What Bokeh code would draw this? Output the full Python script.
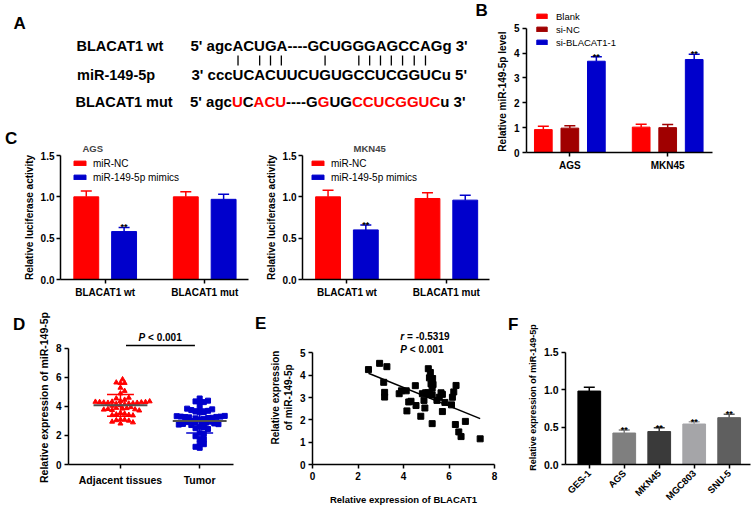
import math
import numpy as np
from bokeh.plotting import figure
from bokeh.layouts import row, column
from bokeh.models import Range1d, FixedTicker, Legend, LegendItem, Div
from bokeh.core.properties import value
from bokeh.embed import file_html
from bokeh.resources import INLINE

FONT = "Liberation Sans"
RED = "#ff0000"
DARKRED = "#a00000"
BLUE = "#0000cc"
NBSP = "\u00a0"

# ---------------- Panel A (sequences)
row_names = ["BLACAT1 wt", "miR-149-5p", "BLACAT1 mut"]
seq_wt = "5' agcACUGA----GCUGGGAGCCAGg 3'"
seq_mir = "3' cccUCACUUCUGUGCCUCGGUCu 5'"
mut_parts = ["5' agc", "U", "C", "ACU", "----G", "G", "UG", "CCUCGGUC", "u 3'"]
mut_red = [False, True, False, True, False, True, False, True, False]
pair_idx = [0, 2, 3, 4, 8, 11, 12, 13, 14, 15, 16, 17]   # paired bases of miR core

# ---------------- Panel B
b_groups = ["AGS", "MKN45"]
b_series = ["Blank", "si-NC", "si-BLACAT1-1"]
b_blank = [0.92, 1.02]
b_blank_err = [0.14, 0.12]
b_sinc = [0.98, 1.00]
b_sinc_err = [0.10, 0.13]
b_si = [3.67, 3.74]
b_si_err = [0.18, 0.21]

# ---------------- Panel C
c_groups = ["BLACAT1 wt", "BLACAT1 mut"]
c_series = ["miR-NC", "miR-149-5p mimics"]
c_ags_nc = [1.00, 1.00]
c_ags_nc_err = [0.07, 0.06]
c_ags_mim = [0.58, 0.97]
c_ags_mim_err = [0.05, 0.06]
c_mkn_nc = [1.00, 0.98]
c_mkn_nc_err = [0.08, 0.07]
c_mkn_mim = [0.60, 0.96]
c_mkn_mim_err = [0.06, 0.06]

# ---------------- Panel D
d_groups = ["Adjacent tissues", "Tumor"]
d_adjacent = [5.87, 5.65, 5.61, 5.62, 5.29, 5.07, 4.9, 4.6, 4.55, 4.46,
              4.38, 4.35, 4.33, 4.32, 4.3, 4.3, 4.28, 4.27, 4.25, 4.25,
              4.22, 4.2, 4.18, 4.15, 4.1, 4.05, 3.95, 3.9, 3.88, 3.85,
              3.82, 3.8, 3.78, 3.75, 3.72, 3.55, 3.5, 3.45, 3.42, 3.4,
              3.38, 3.1, 3.08, 3.05, 3.02, 2.95, 2.9, 2.82]
d_tumor = [4.55, 4.4, 4.35, 4.3, 4.25, 3.9, 3.85, 3.8, 3.75, 3.7,
           3.65, 3.62, 3.6, 3.35, 3.33, 3.3, 3.3, 3.28, 3.27, 3.25,
           3.22, 3.2, 3.18, 3.15, 3.1, 3.0, 2.95, 2.92, 2.9, 2.88,
           2.85, 2.83, 2.8, 2.78, 2.75, 2.72, 2.6, 2.55, 2.5, 2.45,
           2.15, 2.1, 1.95, 1.75, 1.72, 1.45, 1.4, 1.22, 1.15]

# ---------------- Panel E
e_x = [2.46, 2.95, 3.27, 3.13, 3.17, 3.17, 3.81, 3.91, 4.12, 4.15,
       4.23, 4.33, 4.52, 4.55, 4.76, 4.83, 4.90, 4.94, 4.97, 5.07,
       5.09, 5.14, 5.18, 5.21, 5.26, 5.14, 5.26, 5.28, 5.30, 5.26,
       5.47, 5.57, 5.65, 5.71, 5.71, 5.82, 6.11, 6.15, 6.21, 6.31,
       6.28, 6.43, 6.53, 6.72, 7.37]
e_y = [4.25, 4.53, 4.38, 3.68, 3.23, 3.02, 3.17, 3.30, 3.30, 2.40,
       2.80, 2.83, 3.53, 2.64, 2.16, 3.17, 2.87, 2.53, 3.21, 3.21,
       4.29, 3.88, 4.12, 3.61, 3.41, 3.14, 3.11, 3.85, 3.58, 1.83,
       2.87, 3.01, 3.21, 3.14, 2.37, 2.78, 2.67, 3.01, 3.25, 3.54,
       1.79, 1.46, 1.25, 1.93, 1.15]

# ---------------- Panel F
f_cells = ["GES-1", "AGS", "MKN45", "MGC803", "SNU-5"]
f_vals = [0.98, 0.42, 0.44, 0.54, 0.625]
f_err = [0.05, 0.04, 0.05, 0.03, 0.045]
f_colors = ["#000000", "#7f7f7f", "#3a3a3a", "#a5a5a8", "#5f5f5f"]
f_star = ["", "**", "**", "**", "**"]

# Arial/Liberation Sans Bold advance widths (per 1000 em)
BOLD_W = {"5": 556, "3": 556, "'": 238, " ": 278, "a": 556, "g": 611, "c": 556,
          "u": 611, "U": 722, "C": 722, "A": 722, "G": 778, "-": 333}


def tw(s, size):
    return sum(BOLD_W[ch] for ch in s) * size / 1000.0


def make_fig(w, h, xr, yr, left, right, top, bottom, axes=True):
    kw = {}
    if not axes:
        kw = dict(x_axis_type=None, y_axis_type=None)
    p = figure(width=w, height=h, x_range=Range1d(*xr), y_range=Range1d(*yr),
               output_backend="svg", toolbar_location=None,
               min_border_left=left, min_border_right=right,
               min_border_top=top, min_border_bottom=bottom, **kw)
    p.grid.visible = False
    p.outline_line_color = None
    if axes:
        for ax in list(p.xaxis) + list(p.yaxis):
            ax.axis_line_width = 1.5
            ax.axis_line_color = "black"
            ax.major_tick_line_width = 1.5
            ax.major_tick_line_color = "black"
            ax.major_tick_in = 0
            ax.major_tick_out = 4
            ax.minor_tick_line_color = None
            ax.major_label_text_font = FONT
            ax.major_label_text_font_style = "bold"
            ax.major_label_text_font_size = "10px"
            ax.major_label_text_color = "black"
            ax.axis_label_text_font = FONT
            ax.axis_label_text_font_style = "bold"
            ax.axis_label_text_font_size = "10px"
            ax.axis_label_text_color = "black"
            ax.major_label_standoff = 3
            ax.axis_label_standoff = 3
    return p


def letter_div(w, h, ch, left, top):
    html = (f'<div style="margin:{top}px 0 0 {left}px;font-family:\'{FONT}\';'
            f'font-weight:bold;font-size:17px;line-height:17px;color:black">{ch}</div>')
    return Div(text=html, width=w, height=h, margin=0)


def err_bars(p, xs, tops, errs, color, cap):
    xs = np.asarray(xs, float)
    up = np.asarray(tops) + np.asarray(errs)
    p.segment(x0=xs, y0=tops, x1=xs, y1=up, line_color=color, line_width=1.5)
    p.segment(x0=xs - cap, y0=up, x1=xs + cap, y1=up, line_color=color, line_width=1.5)


def stars(p, xs, ys, labels, size="9px"):
    p.text(x=list(xs), y=list(ys), text=labels, text_font=value(FONT),
           text_font_style="bold", text_font_size=size, text_align="center",
           text_baseline="alphabetic", text_color="black")


def styled_legend(items, loc, gw, gh, lh, spacing, standoff, fsize):
    return Legend(items=items, location=loc, glyph_width=gw, glyph_height=gh,
                  label_height=lh, label_width=10, spacing=spacing, padding=0, margin=0,
                  label_standoff=standoff, border_line_color=None,
                  background_fill_alpha=0, label_text_font=FONT,
                  label_text_font_size=fsize, label_text_color="black")


# ======================= A (text panel, also holds letter B) =======================
pa = make_fig(490, 130, (0, 490), (130, 0), 0, 0, 0, 0, axes=False)
pa.text(x=[13, 475], y=[23, 10], text=["A", "B"], text_font=value(FONT),
        text_font_style="bold", text_font_size="17px", text_baseline="middle")
pa.text(x=[76, 76.5, 75], y=[45, 74, 101], text=row_names, text_font=value(FONT),
        text_font_style="bold", text_font_size="14.5px", text_baseline="middle")
SEQ = 15
pa.text(x=[190, 191], y=[45, 74], text=[seq_wt, seq_mir], text_font=value(FONT),
        text_font_style="bold", text_font_size=f"{SEQ}px", text_baseline="middle")
mx, xcur = [], 189.5
for part in mut_parts:
    mx.append(xcur)
    xcur += tw(part, SEQ)
pa.text(x=mx, y=[101] * len(mut_parts), text=mut_parts, text_font=value(FONT),
        text_font_style="bold", text_font_size=f"{SEQ}px", text_baseline="middle",
        text_color=[RED if r else "black" for r in mut_red])
core = seq_mir[6:25]
start = 191 + tw(seq_mir[:6], SEQ)
centers = [start + tw(core[:i], SEQ) + tw(core[i], SEQ) / 2 for i in pair_idx]
pa.segment(x0=centers, y0=[55] * len(centers), x1=centers, y1=[65] * len(centers),
           line_color="black", line_width=1.3)

# ======================= B =======================
pb = make_fig(263, 310, (-0.443, 1.458), (0, 5.79), 36, 41, 8, 158)
pb.yaxis.bounds = (0, 5)
pb.yaxis.ticker = FixedTicker(ticks=[0, 1, 2, 3, 4, 5])
# trailing no-break spaces keep the visible label centred on the 0-5 axis
pb.yaxis.axis_label = "Relative miR-149-5p level" + NBSP * 8
pb.xaxis.ticker = FixedTicker(ticks=[0, 1])
pb.xaxis.major_label_overrides = {0: b_groups[0], 1: b_groups[1]}
gx = np.arange(len(b_groups), dtype=float)
items = []
capb = 5.5 / 97.8
for off, vals, errs, col, name in [(-0.271, b_blank, b_blank_err, RED, b_series[0]),
                                   (0.0, b_sinc, b_sinc_err, DARKRED, b_series[1]),
                                   (0.271, b_si, b_si_err, BLUE, b_series[2])]:
    xs = gx + off
    err_bars(pb, xs, vals, errs, col, capb)
    r = pb.vbar(x=xs, top=vals, width=0.181, fill_color=col, line_color=col)
    items.append(LegendItem(label=name, renderers=[r]))
stars(pb, gx + 0.271, np.array(b_si) + np.array(b_si_err), ["**", "**"])
pb.add_layout(styled_legend(items, (9, 144 - 2 - 38), 13, 6, 12, 1, 8, "9.5px"))


# ======================= C =======================
def c_panel(w, nc, nc_err, mim, mim_err, title, title_x, leg_x, left, xr):
    p = make_fig(w, 180, xr, (0, 1.5), left, 1, 25, 31)
    p.yaxis.ticker = FixedTicker(ticks=[0, 0.5, 1.0, 1.5])
    p.yaxis.axis_label = "Relative luciferase activity"
    p.yaxis.major_label_overrides = {0: "0.0", 0.5: "0.5", 1: "1.0", 1.5: "1.5"}
    p.yaxis.major_label_standoff = 2
    p.xaxis.ticker = FixedTicker(ticks=[0, 1])
    p.xaxis.major_label_overrides = {0: c_groups[0], 1: c_groups[1]}
    g = np.arange(2, dtype=float)
    its = []
    cap = 5.5 / 99.5
    for off, vals, errs, col, name in [(-0.19, nc, nc_err, RED, c_series[0]),
                                       (0.19, mim, mim_err, BLUE, c_series[1])]:
        xs = g + off
        err_bars(p, xs, vals, errs, col, cap)
        r = p.vbar(x=xs, top=vals, width=0.25, fill_color=col, line_color=col)
        its.append(LegendItem(label=name, renderers=[r]))
    stars(p, [g[0] + 0.19], [mim[0] + mim_err[0]], ["**"])
    p.add_layout(styled_legend(its, (leg_x, 124 - 1 - 28), 15, 6, 14, 0, 6, "10px"))
    p.title.text = title
    p.title.align = "left"
    p.title.offset = title_x
    p.title.standoff = 3
    p.title.text_font = FONT
    p.title.text_font_style = "bold"
    p.title.text_font_size = "9.5px"
    return p


c_strip = letter_div(20, 180, "C", 5, 0)
pc1 = c_panel(229, c_ags_nc, c_ags_nc_err, c_ags_mim, c_ags_mim_err, "AGS", 22, 12, 40, (-0.449, 1.440))
pc2 = c_panel(241, c_mkn_nc, c_mkn_nc_err, c_mkn_mim, c_mkn_mim_err, "MKN45", 51, 8, 53, (-0.447, 1.434))

# ======================= D =======================
D_XPX = 79.7
D_YPX = 142 / 9.236
d_strip = letter_div(34, 199, "D", 13, 6)
pd = make_fig(216, 199, (-0.656, 1.427), (0, 9.236), 33, 17, 20, 37)
pd.yaxis.bounds = (0, 8)
pd.yaxis.ticker = FixedTicker(ticks=[0, 2, 4, 6, 8])
pd.yaxis.axis_label = "Relative expression of miR-149-5p"
pd.yaxis.axis_label_text_font_size = "10.5px"
pd.xaxis.ticker = FixedTicker(ticks=[0, 1])
pd.xaxis.major_label_overrides = {0: d_groups[0], 1: d_groups[1]}
pd.xaxis.major_label_text_font_size = "10.5px"
pd.xaxis.major_label_standoff = 5


def swarm_offsets(vals, ypx, xpx, d):
    vals = np.asarray(vals, float)
    order = np.argsort(np.abs(vals - np.median(vals)))
    placed = []
    offs = np.zeros(len(vals))
    for i in order:
        y = vals[i] * ypx
        chosen = None
        for j in range(80):
            cands = [0.0] if j == 0 else [j * d / 2.0, -j * d / 2.0]
            for c in cands:
                if all((c - px) ** 2 + (y - py) ** 2 >= d * d for px, py in placed):
                    chosen = c
                    break
            if chosen is not None:
                break
        placed.append((chosen, y))
        offs[i] = chosen / xpx
    return offs


for gi, (vals, col, marker) in enumerate([(d_adjacent, RED, "triangle"), (d_tumor, BLUE, "square")]):
    offs = swarm_offsets(vals, D_YPX, D_XPX, 4.2)
    pd.scatter(x=gi + offs, y=vals, marker=marker, size=5, fill_color=col, line_color=col)
    m = float(np.mean(vals))
    s = float(np.std(vals, ddof=1))
    pd.segment(x0=[gi], y0=[m - s], x1=[gi], y1=[m + s], line_color=col, line_width=1.5)
    pd.segment(x0=[gi - 0.17, gi - 0.17], y0=[m - s, m + s], x1=[gi + 0.17, gi + 0.17],
               y1=[m - s, m + s], line_color=col, line_width=1.5)
    pd.segment(x0=[gi - 0.34], y0=[m], x1=[gi + 0.34], y1=[m], line_color="#505050", line_width=2)
pd.segment(x0=[0.07], y0=[8.21], x1=[0.94], y1=[8.21], line_color="black", line_width=1.5)
pd.text(x=[0.5], y=[8.78], text=["P"], text_font=value(FONT), text_font_style="bold italic",
        text_font_size="10px", text_baseline="middle", x_offset=-21.5)
pd.text(x=[0.5], y=[8.78], text=["< 0.001"], text_font=value(FONT), text_font_style="bold",
        text_font_size="10px", text_baseline="middle", x_offset=-12)

# ======================= E =======================
e_strip = letter_div(16, 199, "E", 5, 5)
pe = make_fig(239, 199, (0, 8), (0, 6.0), 40, 11, 10, 39)
pe.yaxis.bounds = (0, 5)
pe.yaxis.ticker = FixedTicker(ticks=[0, 1, 2, 3, 4, 5])
pe.xaxis.ticker = FixedTicker(ticks=[0, 2, 4, 6, 8])
pe.yaxis.axis_label = "Relative expression\nof miR-149-5p"
pe.xaxis.axis_label = "Relative expression of BLACAT1"
pe.xaxis.axis_label_text_font_size = "9.5px"
pe.xaxis.axis_label_standoff = 11
pe.scatter(x=e_x, y=e_y, marker="square", size=6, fill_color="black", line_color="black")
slope, icpt = np.polyfit(e_x, e_y, 1)
lx = np.array([min(e_x), max(e_x)])
pe.line(x=lx, y=slope * lx + icpt, line_color="black", line_width=1.5)
pe.text(x=[3.86], y=[5.72], text=["r"], text_font=value(FONT), text_font_style="bold italic",
        text_font_size="10px", text_baseline="middle")
pe.text(x=[3.86], y=[5.72], text=["= -0.5319"], text_font=value(FONT), text_font_style="bold",
        text_font_size="10px", text_baseline="middle", x_offset=6.7)
pe.text(x=[3.86], y=[5.16], text=["P"], text_font=value(FONT), text_font_style="bold italic",
        text_font_size="10px", text_baseline="middle")
pe.text(x=[3.86], y=[5.16], text=["< 0.001"], text_font=value(FONT), text_font_style="bold",
        text_font_size="10px", text_baseline="middle", x_offset=9.5)

# ======================= F =======================
f_strip = letter_div(19, 199, "F", 3, 6)
pf = make_fig(229, 199, (-0.68, 4.61), (0, 1.788), 41, 3, 10, 42)
pf.yaxis.bounds = (0, 1.5)
pf.yaxis.ticker = FixedTicker(ticks=[0, 0.5, 1.0, 1.5])
pf.yaxis.major_label_overrides = {0: "0.0", 0.5: "0.5", 1: "1.0", 1.5: "1.5"}
pf.yaxis.major_label_text_font_size = "10.5px"
pf.yaxis.axis_label = "Relative expression of miR-149-5p"
pf.yaxis.axis_label_text_font_size = "9px"
fx = np.arange(len(f_cells), dtype=float)
pf.xaxis.ticker = FixedTicker(ticks=list(range(len(f_cells))))
pf.xaxis.major_label_overrides = {i: c for i, c in enumerate(f_cells)}
pf.xaxis.major_label_orientation = math.pi / 4
pf.xaxis.major_label_text_font_size = "9.5px"
for i in range(len(f_cells)):
    err_bars(pf, [fx[i]], [f_vals[i]], [f_err[i]], f_colors[i], 5.5 / 35.0)
pf.vbar(x=fx, top=f_vals, width=0.65, fill_color=f_colors, line_color=f_colors)
stars(pf, fx[1:], (np.array(f_vals) + np.array(f_err))[1:], f_star[1:])

layout = column(
    row(column(pa, row(c_strip, pc1, pc2)), pb),
    row(d_strip, pd, e_strip, pe, f_strip, pf),
)
open("out.html", "w").write(file_html(layout, INLINE, "BLACAT1 miR-149-5p"))
